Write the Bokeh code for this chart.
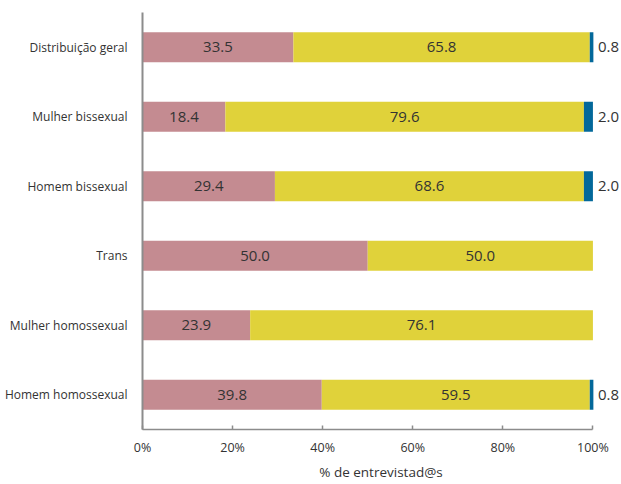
from bokeh.plotting import figure
from bokeh.models import ColumnDataSource, FactorRange, Range1d, FixedTicker, PrintfTickFormatter, LabelSet
from bokeh.core.properties import value
from bokeh.embed import file_html
from bokeh.resources import INLINE

categories = ["Distribuição geral", "Mulher bissexual", "Homem bissexual",
              "Trans", "Mulher homossexual", "Homem homossexual"]
pink = [33.5, 18.4, 29.4, 50.0, 23.9, 39.8]
yellow = [65.8, 79.6, 68.6, 50.0, 76.1, 59.5]
blue = [0.8, 2.0, 2.0, 0.0, 0.0, 0.8]
x_ticks = [0, 20, 40, 60, 80, 100]
x_title = "% de entrevistad@s"

colors = ["#c48b91", "#e0d23a", "#03689a"]
FONT = "Open Sans"

src = ColumnDataSource(dict(cat=categories, pink=pink, yellow=yellow, blue=blue))

p = figure(width=621, height=484, output_backend="svg", toolbar_location=None,
           y_range=FactorRange(factors=list(reversed(categories))),
           x_range=Range1d(0, 105.9))
p.min_border_left = 142
p.min_border_right = 2
p.min_border_top = 12
p.min_border_bottom = 55

p.hbar_stack(["pink", "yellow", "blue"], y="cat", height=0.43, color=colors,
             line_color=None, source=src)

# inside labels
pink_x = [v / 2 for v in pink]
yel_x = [a + b / 2 for a, b in zip(pink, yellow)]
lab_src = ColumnDataSource(dict(
    x=pink_x + yel_x,
    y=categories + categories,
    t=["%.1f" % v for v in pink] + ["%.1f" % v for v in yellow]))
p.add_layout(LabelSet(x="x", y="y", text="t", source=lab_src, text_align="center",
                      text_baseline="middle", text_font=value(FONT), text_font_size="15px",
                      text_color="#333333"))

# outside labels for the third series
out_cats = [c for c, b in zip(categories, blue) if b > 0]
out_vals = [b for b in blue if b > 0]
out_src = ColumnDataSource(dict(x=[100] * len(out_cats), y=out_cats,
                                t=["%.1f" % v for v in out_vals]))
p.add_layout(LabelSet(x="x", y="y", text="t", source=out_src, x_offset=5,
                      text_align="left", text_baseline="middle", text_font=value(FONT),
                      text_font_size="15px", text_color="#333333"))

p.xgrid.grid_line_color = None
p.ygrid.grid_line_color = None
p.outline_line_color = None

xa = p.xaxis[0]
xa.bounds = (0, 100)
xa.ticker = FixedTicker(ticks=x_ticks)
xa.formatter = PrintfTickFormatter(format="%d%%")
xa.axis_line_color = "#8c8c8c"
xa.axis_line_width = 1.5
xa.major_tick_line_color = "#8c8c8c"
xa.major_tick_line_width = 1.5
xa.major_tick_in = 4
xa.major_tick_out = 0
xa.minor_tick_line_color = None
xa.major_label_standoff = 9
xa.major_label_text_font = FONT
xa.major_label_text_font_size = "12.5px"
xa.major_label_text_color = "#333333"
xa.axis_label = x_title
xa.axis_label_standoff = 4
xa.axis_label_text_font = FONT
xa.axis_label_text_font_style = "normal"
xa.axis_label_text_font_size = "13.5px"
xa.axis_label_text_color = "#333333"

ya = p.yaxis[0]
ya.axis_line_color = "#8c8c8c"
ya.axis_line_width = 2
ya.major_tick_line_color = None
ya.minor_tick_line_color = None
ya.major_label_standoff = 9
ya.major_label_text_font = FONT
ya.major_label_text_font_size = "12px"
ya.major_label_text_color = "#333333"

open("out.html", "w").write(file_html(p, INLINE))
